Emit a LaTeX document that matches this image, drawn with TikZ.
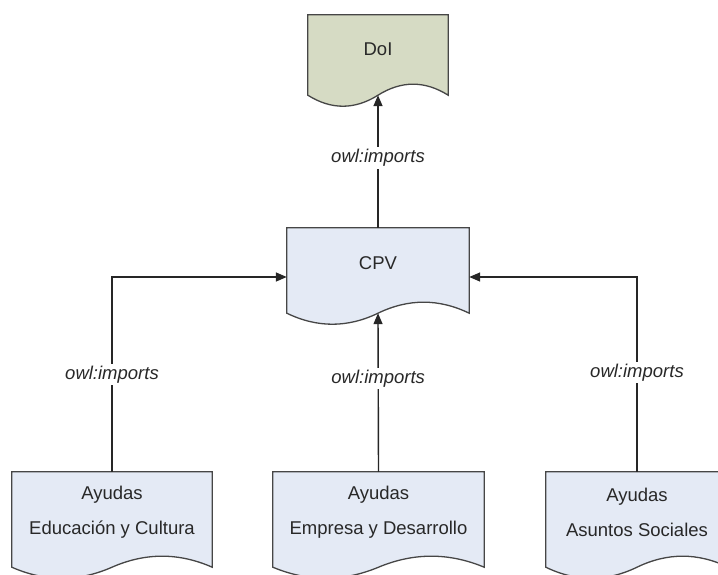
\documentclass[tikz,border=0pt]{standalone}
\usepackage{fontspec}
\setmainfont{Liberation Sans}
\usetikzlibrary{arrows.meta,calc}
\definecolor{docblue}{RGB}{228,234,245}
\definecolor{docgreen}{RGB}{214,219,196}
\definecolor{edgegrey}{RGB}{70,70,70}
\definecolor{txtgrey}{RGB}{40,40,40}
\newcommand\docshape[2]{%
  \path[docline, fill=#2] let \p1=(#1.north west), \p2=(#1.south east), \n1={\x2-\x1} in
    (\x1,\y1) -- (\x1,\y2)
    .. controls ({\x1+\n1/6},{\y2-14.7pt}) and ({\x1+\n1/3},{\y2-14.7pt}) .. ({\x1+\n1/2},\y2)
    .. controls ({\x1+2*\n1/3},{\y2+14.7pt}) and ({\x1+5*\n1/6},{\y2+14.7pt}) .. (\x2,\y2)
    -- (\x2,\y1) -- cycle;}
\begin{document}
\begin{tikzpicture}[x=1pt,y=-1pt,
  docbox/.style={rectangle, inner sep=0pt},
  docline/.style={draw=edgegrey, line width=1.3pt},
  boxtext/.style={font=\fontsize{18.5}{35}\selectfont, text=txtgrey, align=center},
  conn/.style={draw=black!85, line width=1.4pt, -{Triangle[length=11pt,width=9pt]}},
  conlabel/.style={fill=white, inner sep=2pt, text=txtgrey, font=\fontsize{18.5}{22}\selectfont\itshape}]
\useasboundingbox (0,0) rectangle (718,575);
\clip (0,0) rectangle (718,575);
\fill[white] (0,0) rectangle (718,575);
% box nodes
\node[docbox, minimum width=140pt, minimum height=80pt] (doi) at (378,55) {};
\node[docbox, minimum width=182pt, minimum height=85pt] (cpv) at (378,270.5) {};
\node[docbox, minimum width=200pt, minimum height=95pt] (aec) at (112,519.5) {};
\node[docbox, minimum width=211pt, minimum height=95pt] (aed) at (378.5,519.5) {};
\node[docbox, minimum width=182pt, minimum height=95pt] (aas) at (637,519.5) {};
% shapes
\docshape{doi}{docgreen}
\docshape{cpv}{docblue}
\docshape{aec}{docblue}
\docshape{aed}{docblue}
\docshape{aas}{docblue}
% texts
\node[boxtext] (doitxt) at ($(doi.center)+(0,-6)$) {DoI};
\node[boxtext] (cpvtxt) at ($(cpv.center)+(0,-7)$) {CPV};
\node[boxtext] (aectxt) at ($(aec.center)+(0,-7)$) {Ayudas\\Educación y Cultura};
\node[boxtext] (aedtxt) at ($(aed.center)+(0,-7)$) {Ayudas\\Empresa y Desarrollo};
\node[boxtext] (aastxt) at ($(aas.center)+(0,-7)$) {Ayudas\\Asuntos Sociales};
% connectors
\draw[conn] (cpv.north) -- node[conlabel, pos=0.527] (l1) {owl:imports} (doi.south);
\draw[conn] (aed.north) -- node[conlabel, pos=0.59] (l2) {owl:imports} (cpv.south);
\draw[conn] (aec.north) |- node[conlabel, pos=0.25] (l3) {owl:imports} ([yshift=-6.5pt]cpv.west);
\draw[conn] (aas.north) |- node[conlabel, pos=0.255] (l4) {owl:imports} ([yshift=-6.5pt]cpv.east);
\end{tikzpicture}
\end{document}
